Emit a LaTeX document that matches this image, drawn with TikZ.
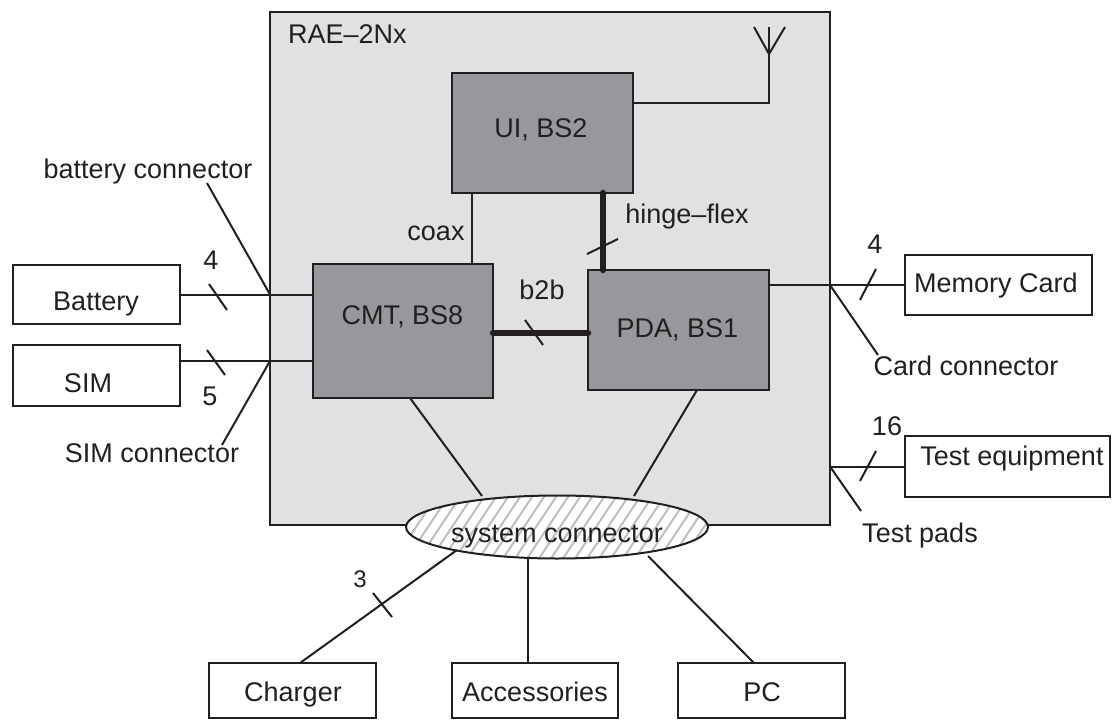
\documentclass[tikz,border=0pt]{standalone}
\usepackage{fontspec}
\setmainfont{Liberation Sans}
\usetikzlibrary{shapes.geometric}
\definecolor{bggray}{HTML}{E0E1E3}
\definecolor{boxgray}{HTML}{97989B}
\definecolor{ink}{HTML}{231F20}
\definecolor{hatchc}{HTML}{BDBEC0}
\begin{document}
\begin{tikzpicture}[x=1pt,y=-1pt,
  wbox/.style={draw=ink, fill=white, line width=2pt, inner sep=0pt, outer sep=0pt},
  gbox/.style={draw=ink, fill=boxgray, line width=2pt, inner sep=0pt, outer sep=0pt},
  lbl/.style={text=ink, font=\fontsize{27}{31}\selectfont, inner sep=0pt, anchor=base},
  slbl/.style={text=ink, font=\fontsize{24}{28}\selectfont, inner sep=0pt, anchor=base},
  wire/.style={draw=ink, line width=2pt},
  thickwire/.style={draw=ink, line width=6.5pt, line cap=round},
  tick/.style={draw=ink, line width=2pt}]
\useasboundingbox (0,0) rectangle (1112,720);

% main enclosure
\node[gbox, fill=bggray, minimum width=560pt, minimum height=513pt] (rae) at (550,268.5) {};
\node[lbl, anchor=base west] (raet) at (288,43) {RAE–2Nx};

% inner boards
\node[gbox, minimum width=181pt, minimum height=120pt] (ui) at (542.5,133) {};
\node[gbox, minimum width=180pt, minimum height=134pt] (cmt) at (403,331) {};
\node[gbox, minimum width=181pt, minimum height=120pt] (pda) at (678.5,330) {};
\node[lbl] (uit) at (541,137) {UI, BS2};
\node[lbl] (cmtt) at (402.5,324) {CMT, BS8};
\node[lbl] (pdat) at (677.5,337) {PDA, BS1};

% outside boxes
\node[wbox, minimum width=167pt, minimum height=59pt] (bat) at (96.5,294.5) {};
\node[wbox, minimum width=167pt, minimum height=61pt] (sim) at (96.5,375.5) {};
\node[wbox, minimum width=187pt, minimum height=60pt] (mem) at (998.5,285) {};
\node[wbox, minimum width=205pt, minimum height=61pt] (te) at (1007.5,466.5) {};
\node[wbox, minimum width=167pt, minimum height=55pt] (chg) at (292.5,690.5) {};
\node[wbox, minimum width=166pt, minimum height=55pt] (acc) at (535,690.5) {};
\node[wbox, minimum width=167pt, minimum height=55pt] (pc) at (761.5,690.5) {};
\node[lbl] (batt) at (96,310) {Battery};
\node[lbl] (simt) at (88,392) {SIM};
\node[lbl] (memt) at (996,292) {Memory Card};
\node[lbl] (tet) at (1012,465) {Test equipment};
\node[lbl] (chgt) at (293,701) {Charger};
\node[lbl] (acct) at (535,701) {Accessories};
\node[lbl] (pct) at (762,701) {PC};

% helper rows/columns
\coordinate (antrow) at (0,103);
\coordinate (coaxcol) at (472,0);
\coordinate (hingecol) at (603,0);
\coordinate (b2brow) at (0,333);
\coordinate (simrow) at (0,361);
\coordinate (chgcol) at (300,0);
\coordinate (acccol) at (528,0);
\coordinate (pccol) at (754,0);

% antenna
\coordinate (antfoot) at (769,103);
\coordinate (antbase) at (769,54);
\coordinate (anttop) at (769,27);
\coordinate (antl) at (754,27);
\coordinate (antr) at (785,27);
\draw[wire] (ui.east |- antrow) -- (antfoot) -- (anttop);
\draw[wire] (antl) -- (antbase) -- (antr);

% internal links
\draw[wire] (ui.south -| coaxcol) -- (cmt.north -| coaxcol);
\node[lbl] (coaxt) at (436,240) {coax};
\draw[thickwire] (ui.south -| hingecol) -- (pda.north -| hingecol);
\draw[tick] (587,254) -- (618,239);
\node[lbl] (hinget) at (687,223) {hinge–flex};
\draw[thickwire] (cmt.east |- b2brow) -- (pda.west |- b2brow);
\draw[tick] (525,320) -- (543,345);
\node[lbl] (b2bt) at (542,299) {b2b};

% battery
\draw[wire] (bat.east) -- (bat.east -| cmt.west);
\draw[tick] (209,284) -- (227,310);
\node[lbl] (n4a) at (211,269) {4};
\coordinate (bcs) at (207,183);
\draw[wire] (bcs) -- (rae.west |- bat.east);
\node[lbl] (bct) at (148,178) {battery connector};

% SIM
\draw[wire] (sim.east |- simrow) -- (cmt.west |- simrow);
\draw[tick] (207,350) -- (225,375);
\node[lbl] (n5) at (210,405) {5};
\coordinate (scs) at (222,445);
\draw[wire] (rae.west |- simrow) -- (scs);
\node[lbl] (sct) at (152,462) {SIM connector};

% memory card
\draw[wire] (pda.east |- mem.west) -- (mem.west);
\draw[tick] (860,300) -- (876,269);
\node[lbl] (n4b) at (875,253) {4};
\coordinate (ccs) at (878,355);
\draw[wire] (rae.east |- mem.west) -- (ccs);
\node[lbl] (cct) at (966,375) {Card connector};

% test equipment
\draw[wire] (rae.east |- te.west) -- (te.west);
\draw[tick] (860,481) -- (876,451);
\node[lbl] (n16) at (887,435) {16};
\coordinate (tps) at (861,511);
\draw[wire] (rae.east |- te.west) -- (tps);
\node[lbl] (tpt) at (920,542) {Test pads};

% system connector
\coordinate (e1) at (482,496);
\coordinate (e2) at (634,496);
\coordinate (e3) at (457,550);
\coordinate (e4) at (528,558);
\coordinate (e5) at (648,556);
\coordinate (cmtb) at (410,398);
\coordinate (pdab) at (697,390);
\draw[wire] (cmtb) -- (e1);
\draw[wire] (pdab) -- (e2);
\fill[white] (557,527) ellipse [x radius=151, y radius=31.5];
\begin{scope}
  \clip (557,527) ellipse [x radius=151, y radius=31.5];
  \foreach \x in {370,382,...,730} {
    \draw[hatchc, line width=2pt] (\x,560) -- ({\x+44},494);
  }
\end{scope}
\node[draw=ink, line width=2pt, ellipse, minimum width=302pt, minimum height=63pt, inner sep=0pt, outer sep=0pt] (sc) at (557,527) {};
\node[lbl] (sct2) at (557,542) {system connector};

\draw[wire] (e3) -- (chg.north -| chgcol);
\draw[tick] (373,593) -- (392,617);
\node[slbl] (n3) at (360,587) {3};
\draw[wire] (e4) -- (acc.north -| acccol);
\draw[wire] (e5) -- (pc.north -| pccol);
\end{tikzpicture}
\end{document}
